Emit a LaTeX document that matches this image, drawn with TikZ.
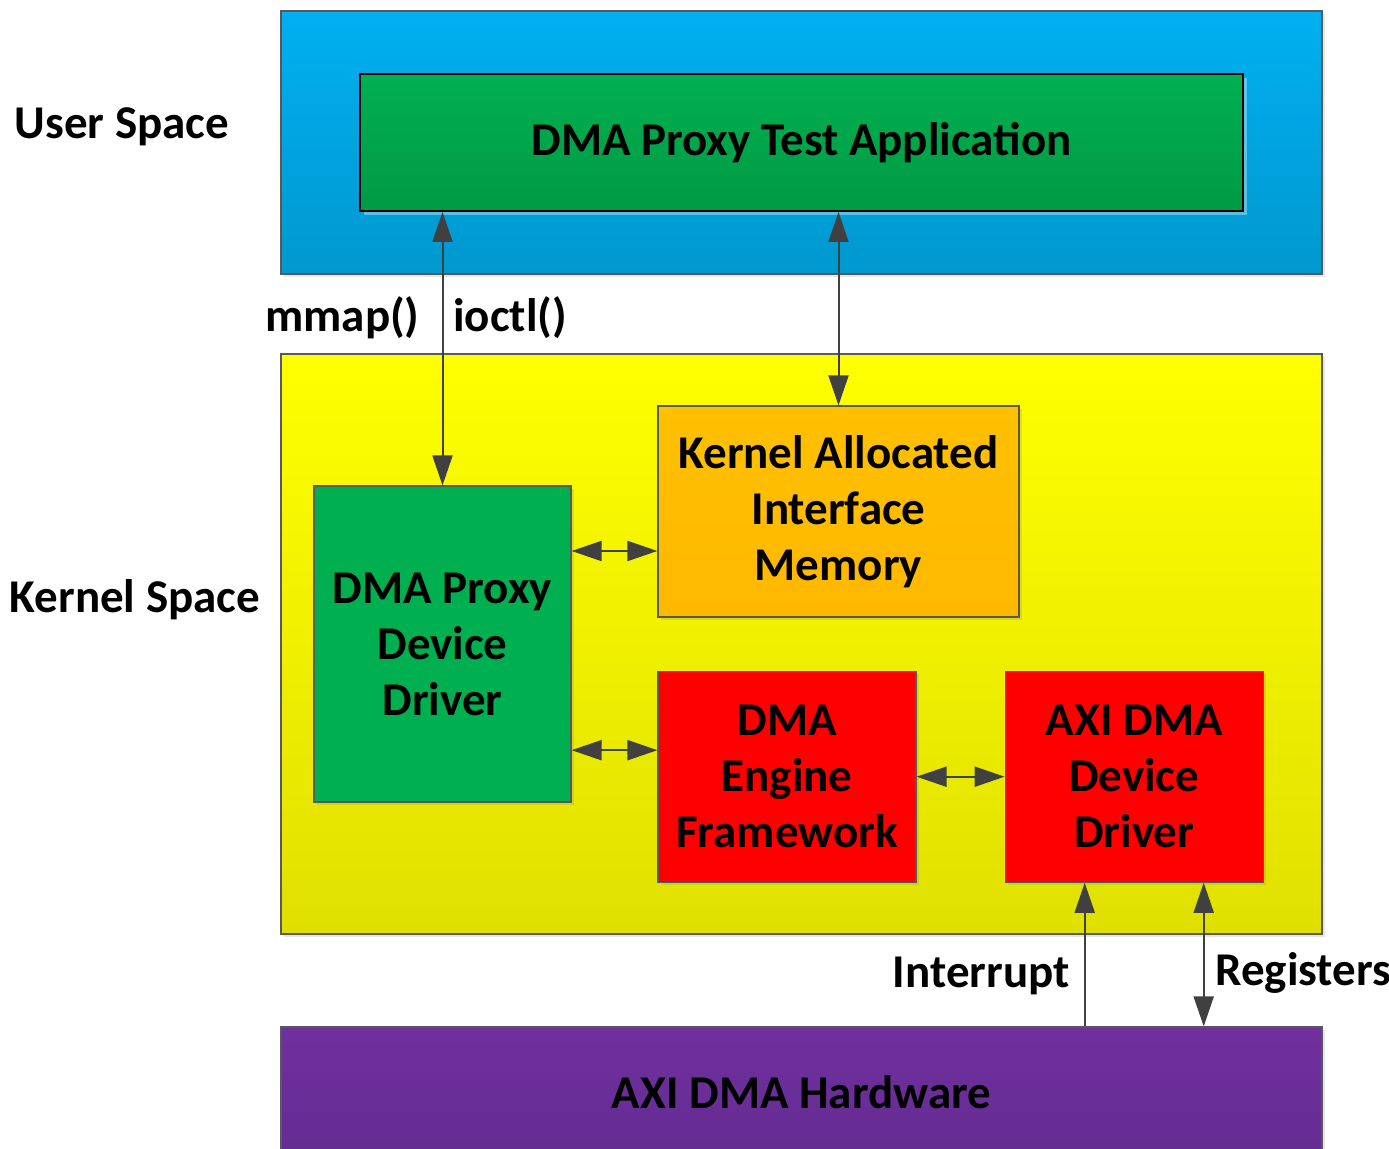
\documentclass[tikz,border=0pt]{standalone}
\usepackage{fontspec}
\setmainfont{Carlito}
\usetikzlibrary{positioning,arrows.meta,shadows}
\definecolor{ublue}{HTML}{00B0F0}
\definecolor{ubluedk}{HTML}{0098CF}
\definecolor{agreen}{HTML}{00B050}
\definecolor{agreendk}{HTML}{009A44}
\definecolor{kyellow}{HTML}{FFFF00}
\definecolor{kyellowdk}{HTML}{E0E000}
\definecolor{morange}{HTML}{FFC000}
\definecolor{morangedk}{HTML}{FFB800}
\definecolor{hpurple}{HTML}{7030A0}
\definecolor{hpurpledk}{HTML}{642C90}
\tikzstyle{sbox}=[rectangle, draw=black!65, line width=0.6pt, inner sep=0pt, align=center, drop shadow={shadow xshift=1.5pt, shadow yshift=-1.5pt, opacity=0.2}]
\tikzstyle{ubox}=[sbox, top color=ublue, bottom color=ubluedk, minimum width=520.5pt, minimum height=131.5pt]
\tikzstyle{appbox}=[rectangle, draw=black, line width=0.9pt, top color=agreen, bottom color=agreendk, minimum width=441.5pt, minimum height=68.5pt, drop shadow={shadow xshift=2pt, shadow yshift=-2pt, fill=white, opacity=0.35}]
\tikzstyle{kbox}=[sbox, top color=kyellow, bottom color=kyellowdk, minimum width=520.5pt, minimum height=290pt]
\tikzstyle{gbox}=[sbox, fill=agreen, minimum width=128.5pt, minimum height=158pt]
\tikzstyle{obox}=[sbox, top color=morange, bottom color=morangedk, minimum width=180.5pt, minimum height=105.5pt]
\tikzstyle{rbox}=[sbox, fill=red, minimum width=129pt, minimum height=105.5pt]
\tikzstyle{hbox}=[sbox, top color=hpurple, bottom color=hpurpledk, minimum width=520.5pt, minimum height=65pt]
\tikzstyle{lbl}=[inner sep=0pt]
\tikzstyle{link}=[draw=black!75, line width=1pt, >={Triangle[length=15pt,width=10pt]}]

\begin{document}
\begin{tikzpicture}[x=1pt, y=1pt, font=\fontsize{23.5}{28}\selectfont\bfseries]
\useasboundingbox (0,0) rectangle (694.5,-574.5);
% user space
\node (US) [ubox] at (400.75,-71.25) {};
\node (APP) [appbox] at (US) {DMA Proxy Test Application};
% kernel space
\node (KS) [kbox] at (400.75,-322) {};
\node (DRV) [gbox] at (221.25,-322) {DMA Proxy\\Device\\Driver};
\node (MEM) [obox] at (419.25,-255.75) {Kernel Allocated\\Interface\\Memory};
\node (ENG) [rbox, below=26.5pt of MEM.south west, anchor=north west] {DMA\\Engine\\Framework};
\node (AXI) [rbox, right=44pt of ENG] {AXI DMA\\Device\\Driver};
% hardware
\node (HW) [hbox] at (400.75,-546) {AXI DMA Hardware};
% labels
\node (USL) [lbl] at (61,-63.5) {User Space};
\node (KSL) [lbl] at (67.5,-300) {Kernel Space};
\node (MMAP) [lbl, anchor=east] at (210,-159) {mmap()};
\node (IOCTL) [lbl, anchor=west] at (226.5,-159) {ioctl()};
\node (INT) [lbl, anchor=east] at (535,-488) {Interrupt};
\node (REG) [lbl, anchor=west] at (607.5,-486.5) {Registers};
% connectors
\draw[link, <->] (DRV.north |- APP.south) -- (DRV.north);
\draw[link, <->] (MEM.north |- APP.south) -- (MEM.north);
\coordinate (M1) at ([yshift=-19.75pt]MEM.west);
\draw[link, <->] (DRV.east |- M1) -- (M1);
\coordinate (E1) at ([yshift=13.25pt]ENG.west);
\draw[link, <->] (DRV.east |- E1) -- (E1);
\draw[link, <->] (ENG) -- (AXI);
\coordinate (I1) at ([xshift=-24.75pt]AXI.south);
\draw[link, ->] (HW.north -| I1) -- (I1);
\coordinate (R1) at ([xshift=34.75pt]AXI.south);
\draw[link, <->] (HW.north -| R1) -- (R1);
\end{tikzpicture}
\end{document}
